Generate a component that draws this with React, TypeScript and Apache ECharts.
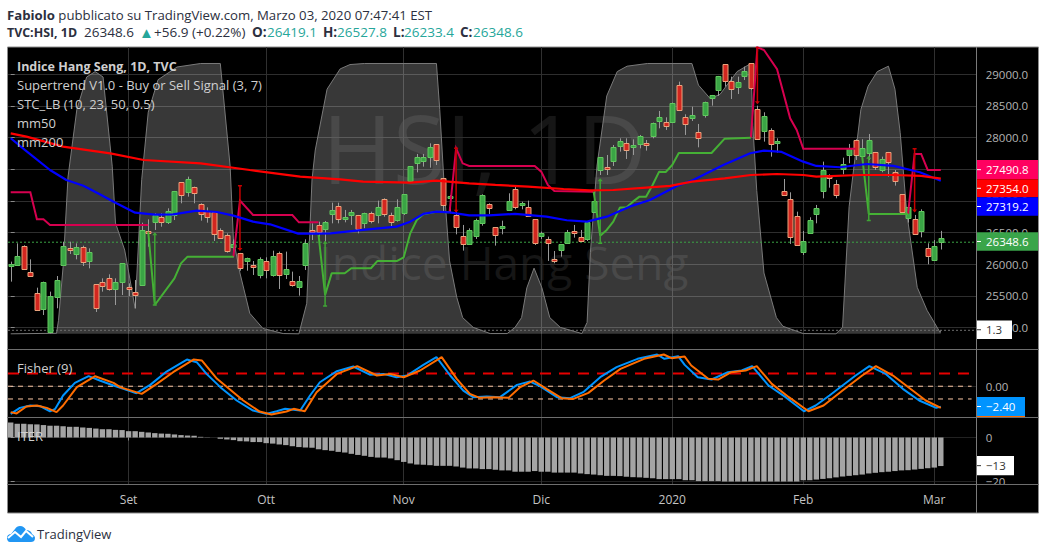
import React, { useEffect, useRef } from "react";
import * as echarts from "echarts";

const monthBars = [18, 39, 60, 81, 101, 121, 141];
const monthNames = ["Set", "Ott", "Nov", "Dic", "2020", "Feb", "Mar"];
const priceTicks = [25000, 25500, 26000, 26500, 27000, 27500, 28000, 28500, 29000];

const candleOpen = [25978,25989,26294,25878,25552,25294,24936,25489,25989,26263,
26163,26278,26052,25689,25726,25778,25610,25715,25647,25557,
25673,26520,26673,26742,26678,26778,27294,27147,27226,26952,
26842,26826,26542,26463,26278,26173,26042,25984,25831,26052,
25831,26173,25847,25742,25631,25989,26542,26620,26557,26794,
26921,26721,26779,26779,26647,26805,26768,27031,26773,26700,
26805,27305,27589,27631,27684,27894,27358,27058,26773,26447,
26321,26437,26658,26947,26584,26589,26863,27189,26947,26910,
26710,26437,26395,26089,26216,26337,26521,26426,26400,26831,
27489,27531,27631,27868,27910,27842,27910,27910,28026,28252,
28242,28253,28831,28321,28316,28084,28347,28632,28753,29158,
28895,28805,28979,29174,28447,28110,28121,27926,27158,27037,
26763,26184,26489,26784,27163,27410,27263,27510,27716,27963,
27700,27763,27774,27479,27774,27453,27105,26721,26710,26532,
26258,26079,26419.1];
const candleHigh = [26042,26331,26300,26078,25631,25726,25568,25815,26357,26357,
26331,26294,26252,25689,25778,25842,25778,26015,25699,25752,
26657,26710,26805,26805,26884,27158,27294,27384,27226,26963,
26899,26826,26568,26489,26394,26180,26105,26052,26110,26110,
26215,26200,26200,25884,25815,26394,26647,26673,26684,26973,
26973,26858,26858,26779,26815,26831,27005,27042,26815,27026,
27105,27547,27742,27742,27910,27894,27358,27094,26858,26621,
26568,26721,27105,26963,26584,26689,27121,27242,26989,27005,
26710,26516,26437,26210,26316,26542,26621,26542,26673,27147,
27689,27726,27884,27989,27989,27973,28042,27963,28237,28421,
28321,28553,28884,28368,28489,28216,28568,28674,28974,29158,
28963,28963,29121,29174,28505,28400,28147,27989,27347,27137,
26831,26526,26742,26937,27621,27421,27332,27684,27900,27974,
27974,28058,27774,27700,27774,27489,27105,26937,26779,26868,
26332,26384,26527.8];
const candleLow = [25726,25989,25930,25805,25268,25199,24910,25305,25989,26163,
26078,25973,25936,25247,25568,25584,25357,25515,25499,25305,
25657,26278,26542,26594,26636,26699,26963,27068,26963,26689,
26657,26368,26410,26184,26110,25899,25899,25831,25778,25778,
25805,25610,25768,25647,25505,25910,26384,26436,26357,26647,
26647,26663,26621,26489,26568,26647,26647,26752,26595,26673,
26779,27305,27452,27542,27526,27568,26815,26805,26473,26216,
26316,26400,26610,26795,26295,26473,26858,26868,26868,26752,
26305,26400,26053,26016,26121,26331,26421,26358,26368,26831,
27410,27410,27552,27779,27663,27726,27831,27795,27989,28147,
28121,28237,28421,28042,28263,27847,28316,28505,28658,28805,
28610,28689,28910,28753,27963,27937,27700,27763,27095,26321,
26289,26147,26489,26647,27042,27210,27042,27421,27595,27647,
27553,27647,27489,27453,27384,27242,26805,26658,26474,26426,
26000,26079,26233.4];
const candleClose = [26005,26126,25936,25815,25278,25726,25499,25752,26294,26236,
26278,26042,26189,25315,25657,25610,25726,26015,25636,25515,
26536,26499,26778,26663,26847,27158,27094,27347,27136,26789,
26752,26478,26420,26215,26320,25936,26094,25963,26089,25910,
26126,25820,25921,25678,25731,26331,26526,26505,26673,26858,
26710,26742,26826,26558,26805,26684,26900,26789,26663,26900,
27105,27547,27689,27689,27847,27647,26926,27079,26579,26321,
26537,26695,27094,26889,26453,26605,27000,26905,26963,26768,
26337,26489,26326,26058,26316,26510,26500,26368,26663,27000,
27689,27505,27847,27947,27805,27879,28031,27873,28226,28321,
28184,28553,28437,28216,28363,27989,28558,28674,28974,28884,
28763,28879,29053,28779,27974,28347,27905,27953,27095,26437,
26305,26363,26700,26884,27489,27358,27095,27589,27832,27726,
27832,27963,27532,27658,27621,27305,26821,26900,26479,26847,
26132,26295,26348.6];
const greenDespiteOpen = [142];

const mm50 = [[0,27990],[2.2,27804],[6,27489],[8.5,27331],[11.1,27241],[13.6,27105],[15.7,26989],[19,26815],[22,26784],[24.8,26789],[28.4,26847],[31.5,26826],[34,26768],[37,26673],[39.6,26631],[43.9,26484],[46.7,26484],[48.8,26489],[53.8,26542],[58.9,26595],[61,26673],[63,26795],[65,26831],[67,26821],[70,26773],[73,26773],[77,26795],[81.8,26752],[84.9,26695],[88,26673],[91,26752],[94.5,26910],[97.6,27015],[101.7,27237],[104.2,27331],[108.8,27568],[112.9,27753],[115,27795],[117.7,27774],[121,27621],[123,27553],[126.6,27532],[130.7,27584],[134.8,27553],[138.8,27453],[142,27319.2]];
const mm200 = [[0,28068],[2.4,28015],[8,27857],[15.2,27752],[20.3,27647],[29,27594],[36.5,27489],[44.2,27384],[50.3,27342],[53.8,27305],[61,27289],[65,27321],[70,27279],[74,27253],[79,27226],[84.4,27189],[88.4,27168],[92,27173],[97,27210],[100.7,27237],[104,27305],[109,27358],[113,27410],[117,27426],[121,27410],[123,27384],[129.6,27410],[134.7,27410],[139,27395],[142,27354]];

const superRed = [
  [[0,27136],[3,27136],[4,26710],[5,26710],[6,26620],[21,26620]],
  [[34,26121],[35,27005],[37,26778],[43,26778],[44,26663],[47,26663]],
  [[67,26821],[68,27831],[69,27594],[70,27552],[80,27552],[81,27463],[82,27252],[83,27158],[89,27147]],
  [[113,28000],[114,29426],[115,29384],[117,29079],[119,28305],[120,28121],[121,27826],[129,27826]],
  [[137,26795],[138,27742],[139,27742],[140,27490.8],[142,27490.8]],
];
const superGreen = [
  [[21,26515],[22,25357],[25,25778],[26,26015],[27,26121],[34,26121]],
  [[47,26463],[48,25515],[49,25857],[51,25858],[52,25937],[55,25937],[56,26053],[59,26053],[60,26110],[61,26489],[62,26700],[63,26789],[65,26831],[67,26821]],
  [[89,27147],[90,26452],[91,26542],[92,26673],[93,26895],[94,26895],[95,26989],[96,27068],[97,27068],[98,27252],[99,27463],[100,27458],[101,27568],[102,27758],[107,27758],[109,27984],[113,28000]],
  [[130,27700],[131,26795],[137,26795]],
];
const sellSignals = [[35,27241,26226],[68,27831,26831],[114,29426,28544],[138,27826,26832]];
const buySignals = [[22,26489,25357],[48,26357,25342],[90,27342,26331],[131,27700,26690]];

const stcArea = [[0,0],[7,0.2],[7.3,5],[8,24.8],[8.75,58],[10.1,83],[11.6,95],[12.9,97],[14.1,95],[15.5,62],[16,41],[17.4,31],[19,9.4],[20,57],[21,82],[22.5,94],[25.4,98.7],[29,100],[32,100],[33.5,62],[34,35],[35,22.5],[36.5,7.6],[38.5,2],[41.6,0.1],[44,0],[45.2,11.3],[46,57],[46.5,68],[48.3,90.5],[50.3,98],[51.8,99.6],[54,100],[65,100],[65.5,83],[66.3,50],[67,27],[68.1,13.5],[69,6],[70.6,2.4],[73.2,0.1],[75.8,0.1],[77,2.4],[78,6],[78.8,17],[79.9,24.3],[81.1,17],[82.3,6],[83.9,2.4],[87.2,0.1],[88,4.2],[88.5,30],[89.5,62],[91,88],[92.6,97],[94.1,99],[97.2,100],[104,100],[105,92],[106.8,87],[108.3,88.6],[110.9,97],[113,100],[113.3,77],[113.9,53],[115,22.5],[116.9,6],[117.9,2.8],[121,0.1],[126,0],[127,2.4],[128,47],[129.8,83],[130.9,91.6],[132.3,97],[134,99],[135,90.5],[135.8,74.4],[136.8,44.8],[138.4,17.2],[139.9,8.7],[141.9,0.5],[142,1.3]];

const fisherBlue = [[0,-3.25],[1.4,-2.55],[3,-2.27],[4.5,-2.35],[6,-2.97],[6.8,-2.66],[8,-1.09],[9.8,0.4],[11.9,1.18],[13.6,0.67],[15.7,0.08],[17.2,-0.31],[19.2,-0.82],[21.3,0.16],[23.8,1.73],[26.9,3.14],[28.4,2.83],[29.9,1.45],[32,-0.11],[34.5,-1.68],[37,-2.86],[39,-3.25],[40.6,-2.94],[41.9,-2.66],[44.2,-2.86],[45.7,-1.09],[47.2,0.47],[49.8,1.77],[52.3,2.32],[54.9,1.34],[56.9,1.45],[58.9,1.06],[60.5,1.26],[63,2.51],[65,3.42],[67.1,1.26],[69.1,-0.51],[70.6,-1.29],[72.7,-1.21],[74.7,-1.29],[77.3,0.16],[79.3,0.55],[80.8,0],[83.4,-1.29],[85.4,-1.41],[87.4,-0.7],[90,1.06],[92.5,2.24],[95.7,3.22],[98.7,3.73],[99.8,3.22],[101.9,3.53],[102.9,2.51],[104.9,1.06],[107,0.79],[109.5,1.65],[111.6,1.85],[113.2,2.36],[115.7,0.08],[118.3,-1.29],[121.1,-2.95],[122.9,-2.27],[125,-1.09],[129,1.26],[131.1,2.36],[133.6,1.45],[136.2,-0.31],[138.7,-1.68],[141.3,-2.55],[142,-2.4]];
const fisherOrange = [[0,-3.05],[0.9,-3.2],[2.4,-2.39],[4,-2.27],[5.5,-2.55],[7,-3.05],[8,-2.27],[10.1,-0.11],[12.9,1.18],[15.7,0.4],[16.7,-0.11],[20,-0.9],[22.3,0.28],[24.8,1.65],[27.9,3.14],[29.2,3.02],[31.5,0.87],[35.5,-1.68],[38,-2.98],[39.8,-3.33],[42.1,-2.98],[43.2,-2.66],[44.9,-2.94],[46.7,-0.7],[49.8,1.45],[52.9,2.36],[55.9,1.26],[57.9,1.45],[60,1.06],[62.5,1.85],[65.8,3.42],[68.1,0.87],[70.1,-0.9],[71.6,-1.37],[73.7,-1.29],[76,-1.37],[77.8,-0.1],[79.8,0.67],[81.8,-0.31],[84.1,-1.41],[85.9,-1.49],[88.2,-0.78],[90.6,0.67],[93.1,2.04],[96.7,3.22],[99.7,3.73],[100.9,3.3],[102.9,3.49],[103.9,2.44],[106.5,0.87],[108,0.79],[110,1.65],[112.2,1.85],[113.9,2.36],[116.2,0.28],[118.8,-1.29],[121.8,-2.94],[124.1,-2.27],[127,-0.51],[130,1.26],[132.1,2.36],[134.7,1.26],[137.7,-0.51],[139.7,-1.68],[142,-2.55]];
const fisherLevelsRed = [1.5];
const fisherLevelsOrange = [0, -1.5];

const iterValues = [6.9,6.3,6.3,6.1,6,5.7,5.4,5.4,5.2,4.9,4.9,4.6,4.4,4.1,3.8,3.8,3.5,3.4,2.9,2.9,2.6,2.3,2,1.8,1.7,1.4,1.1,0.9,0.8,0.3,0.1,0,
-0.6,-0.9,-1.2,-1.7,-1.8,-2.1,-2.1,-2.6,-2.8,-3.2,-3.5,-4,-4.4,-4.6,-4.7,-5.4,-5.8,-6.1,-6.6,-6.9,-7.5,-8,-8.4,-8.9,-9.2,-9.2,-9.6,-10.4,-11.2,-11.9,-12.4,-12.5,-12.7,-13,-13,-13,-13.3,-13.8,-14.2,-14.2,-14.5,-14.5,-14.8,-15.1,-15.1,-15.7,
-15.7,-15.7,-15.4,-15.7,-15.7,-16.1,-16.1,-16.1,-16.1,-16.5,-16.8,-17,-17.3,-17.6,-17.6,-17.7,-18,-18.2,-18.3,-18.5,-18.7,-19.1,-19.1,-19.1,-19.1,-19.6,-19.6,-20,-20,-20,-20,-20.2,-20.2,-20.2,-20.2,-20.2,-20.2,-20.2,-20.2,-20.2,-20.2,-20.2,-20.2,
-19.6,-19.6,-19.3,-19,-18.7,-18.3,-17.9,-17.6,-17.3,-17,-16.5,-16.2,-15.9,-15.7,-15.4,-15.1,-15,-14.7,-14.4,-14.1,-13.8,-13.1];

const lastPrice = 26348.6;
const stcLast = 1.3;

const FONT = "'Open Sans', 'Noto Sans', sans-serif";
const X_MIN = -0.412;
const X_MAX = 147.48;
const GRID_LEFT = 8;
const GRID_RIGHT = 1046 - 976.7;

function candleItem(_p: any, api: any) {
  const i = api.value(0);
  const open = api.value(1);
  const high = api.value(2);
  const low = api.value(3);
  const close = api.value(4);
  const up = close >= open || greenDespiteOpen.includes(i);
  const top = api.coord([i, Math.max(open, close)]);
  const bot = api.coord([i, Math.min(open, close)]);
  const hi = api.coord([i, high]);
  const lo = api.coord([i, low]);
  const cx = Math.round(top[0]) + 0.5;
  const y0 = Math.round(top[1]) + 0.5;
  const h = Math.max(2, Math.round(bot[1] - top[1]));
  return {
    type: "group",
    children: [
      { type: "line", shape: { x1: cx, y1: hi[1], x2: cx, y2: lo[1] }, style: { stroke: "#9a9a9a", lineWidth: 1 } },
      {
        type: "rect",
        shape: { x: cx - 2.5, y: y0, width: 5, height: h },
        style: { fill: up ? "#3aa545" : "#d2261f", stroke: up ? "#62c75f" : "#eba27c", lineWidth: 1 },
      },
    ],
  };
}

function signalItem(color: string, headAtTop: boolean) {
  return (_p: any, api: any) => {
    const i = api.value(0);
    const a = api.coord([i, api.value(1)]);
    const b = api.coord([i, api.value(2)]);
    const head = headAtTop ? a : b;
    const tail = headAtTop ? b : a;
    const dir = headAtTop ? -1 : 1;
    return {
      type: "group",
      children: [
        { type: "line", shape: { x1: a[0], y1: a[1], x2: b[0], y2: b[1] }, style: { stroke: color, lineWidth: 1.5 } },
        { type: "line", shape: { x1: tail[0] - 2, y1: tail[1], x2: tail[0] + 2, y2: tail[1] }, style: { stroke: color, lineWidth: 1.5 } },
        {
          type: "polygon",
          shape: { points: [[head[0] - 2.5, head[1] - dir * 2], [head[0] + 2.5, head[1] - dir * 2], [head[0], head[1] + dir]] },
          style: { fill: color },
        },
      ],
    };
  };
}

function xAxis(gridIndex: number, labels: boolean) {
  return {
    type: "value",
    gridIndex,
    min: X_MIN,
    max: X_MAX,
    axisLine: { show: false },
    axisTick: { show: labels, customValues: monthBars, length: 3, lineStyle: { color: "#8a8a8a" } },
    axisLabel: {
      show: labels,
      customValues: monthBars,
      margin: 9,
      color: "#c4c4c4",
      fontFamily: FONT,
      fontSize: 12,
      formatter: (v: number) => monthNames[monthBars.indexOf(v)] ?? "",
    },
    splitLine: { show: true, lineStyle: { color: "#303030", width: 1 } },
  };
}

function yLabelAxis(gridIndex: number, min: number, max: number, values: number[], fmt: (v: number) => string, grid = "#2c2c2c") {
  return {
    type: "value",
    gridIndex,
    position: "right",
    min,
    max,
    axisLine: { show: false },
    axisTick: { show: true, customValues: values, length: 4, lineStyle: { color: "#8a8a8a" } },
    axisLabel: { customValues: values, margin: 9, color: "#b4b4b4", fontFamily: FONT, fontSize: 11.5, formatter: fmt },
    splitLine: { show: true, lineStyle: { color: grid, width: 1 } },
  };
}

function label(text: string, y0: number, y1: number, right: number, bg: string, fg: string) {
  const mid = (y0 + y1) / 2;
  return [
    { type: "rect", z: 60, shape: { x: 977, y: y0, width: right - 977, height: y1 - y0 }, style: { fill: bg } },
    { type: "rect", z: 61, shape: { x: 977, y: mid - 0.5, width: 4, height: 1 }, style: { fill: fg } },
    { type: "text", z: 61, style: { text, x: 986, y: mid, fill: fg, font: `11.5px ${FONT}`, verticalAlign: "middle" } },
  ];
}

function txt(text: string, x: number, y: number, fill: string, font: string, z = 40) {
  return { type: "text", z, silent: true, style: { text, x, y, fill, font, verticalAlign: "middle" } };
}

export default function App() {
  const ref = useRef<HTMLDivElement>(null);
  useEffect(() => {
    echarts.graphic.registerShape(
      "tvCloud",
      echarts.graphic.extendPath(
        "M3 16C1 16 0 14 0 12C0 9 2 8 4 8L8 3C9 1 11 0 13 0C16 0 18 2 19 4C22 4 24 5 25 8C27 9 28 11 28 12C28 15 26 16 24 16Z",
        {}
      )
    );
    const chart = echarts.init(ref.current!, undefined, { renderer: "svg" });
    const lineBase = { type: "line", showSymbol: false, symbol: "none", silent: true, animation: false };
    const mainAxes = { xAxisIndex: 0, yAxisIndex: 0 };
    const series: any[] = [
      {
        ...lineBase,
        name: "STC_LB",
        xAxisIndex: 0,
        yAxisIndex: 1,
        z: 1,
        data: stcArea,
        lineStyle: { color: "#7a7a7a", width: 1 },
        areaStyle: { color: "rgba(255,255,255,0.22)", origin: 0, opacity: 1 },
      },
      {
        ...lineBase,
        name: "stcLevel",
        xAxisIndex: 0,
        yAxisIndex: 1,
        z: 1,
        data: [[X_MIN, stcLast], [X_MAX, stcLast]],
        lineStyle: { color: "#6e6e6e", width: 1, type: [2, 2] },
      },
      {
        ...lineBase,
        ...mainAxes,
        name: "lastPrice",
        z: 3,
        data: [[X_MIN, lastPrice], [X_MAX, lastPrice]],
        lineStyle: { color: "#3aa545", width: 1, type: [2, 2] },
      },
      {
        type: "custom",
        name: "Indice Hang Seng",
        ...mainAxes,
        z: 4,
        silent: true,
        clip: true,
        encode: { x: 0, y: [1, 2, 3, 4] },
        data: candleOpen.map((o, i) => [i, o, candleHigh[i], candleLow[i], candleClose[i]]),
        renderItem: candleItem,
      },
      ...superRed.map((d, k) => ({ ...lineBase, ...mainAxes, name: `superRed${k}`, z: 5, data: d, lineStyle: { color: "#d6004f", width: 2, join: "miter" } })),
      ...superGreen.map((d, k) => ({ ...lineBase, ...mainAxes, name: `superGreen${k}`, z: 5, data: d, lineStyle: { color: "#45b035", width: 2 } })),
      { type: "custom", name: "sell", ...mainAxes, z: 6, silent: true, clip: true, encode: { x: 0, y: [1, 2] }, data: sellSignals, renderItem: signalItem("#c80000", false) },
      { type: "custom", name: "buy", ...mainAxes, z: 6, silent: true, clip: true, encode: { x: 0, y: [1, 2] }, data: buySignals, renderItem: signalItem("#3fa535", true) },
      { ...lineBase, ...mainAxes, name: "mm50", z: 7, data: mm50, lineStyle: { color: "#0000ff", width: 2.2 } },
      { ...lineBase, ...mainAxes, name: "mm200", z: 7, data: mm200, lineStyle: { color: "#ff0000", width: 2.2 } },
      ...fisherLevelsRed.map((v) => ({
        ...lineBase, xAxisIndex: 1, yAxisIndex: 2, name: "fisherRed", z: 3,
        data: [[X_MIN, v], [146.7, v]],
        lineStyle: { color: "#e60000", width: 2, type: [11, 8] },
      })),
      ...fisherLevelsOrange.map((v) => ({
        ...lineBase, xAxisIndex: 1, yAxisIndex: 2, name: `fisherOrange${v}`, z: 3,
        data: [[X_MIN, v], [146.7, v]],
        lineStyle: { color: "#ffc9a6", width: 1, type: [5, 5] },
      })),
      { ...lineBase, xAxisIndex: 1, yAxisIndex: 2, name: "Fisher", z: 4, data: fisherBlue, lineStyle: { color: "#0094ff", width: 2 } },
      { ...lineBase, xAxisIndex: 1, yAxisIndex: 2, name: "Trigger", z: 5, data: fisherOrange, lineStyle: { color: "#ff6d00", width: 2 } },
      {
        type: "bar",
        name: "ITER",
        xAxisIndex: 2,
        yAxisIndex: 3,
        silent: true,
        barWidth: 5.4,
        z: 4,
        itemStyle: { color: "#a4a4a4" },
        data: iterValues.map((v, i) => [i, v]),
      },
    ];

    const legendColor = "#cfcfcf";
    const head = "#2c3040";
    const teal = "#26a69a";
    const row2 = `13.5px ${FONT}`;
    const row2b = `bold 13.5px ${FONT}`;
    const graphicElements: any[] = [
      { type: "rect", z: -20, silent: true, shape: { x: 7.5, y: 47, width: 1031, height: 466 }, style: { fill: "#000", stroke: "#8c8c8c", lineWidth: 1 } },
      txt("HSI, 1D", 322, 146, "#161616", `96px ${FONT}`, -10),
      txt("Indice Hang Seng", 319, 262, "#161616", `46px ${FONT}`, -10),
      { type: "rect", z: 35, silent: true, shape: { x: 978, y: 485, width: 60, height: 12 }, style: { fill: "#000" } },
      { type: "rect", z: 36, silent: true, shape: { x: 7, y: 349, width: 1032, height: 1 }, style: { fill: "#6e6e6e" } },
      { type: "rect", z: 36, silent: true, shape: { x: 7, y: 417, width: 1032, height: 1 }, style: { fill: "#6e6e6e" } },
      { type: "rect", z: 36, silent: true, shape: { x: 7, y: 484, width: 1032, height: 1 }, style: { fill: "#6e6e6e" } },
      { type: "rect", z: 36, silent: true, shape: { x: 976, y: 47, width: 1, height: 466 }, style: { fill: "#7a7a7a" } },
      txt("Indice Hang Seng, 1D, TVC", 17, 66, legendColor, `bold 12.5px ${FONT}`),
      txt("Supertrend V1.0 - Buy or Sell Signal (3, 7)", 17, 85, legendColor, `13px ${FONT}`),
      txt("STC_LB (10, 23, 50, 0.5)", 17, 104, legendColor, `13px ${FONT}`),
      txt("mm50", 17, 123, legendColor, `13px ${FONT}`),
      txt("mm200", 17, 142, legendColor, `13px ${FONT}`),
      txt("Fisher (9)", 17, 368, legendColor, `13px ${FONT}`),
      txt("ITER", 17, 436, legendColor, `13px ${FONT}`),
      {
        type: "text",
        z: 40,
        silent: true,
        style: {
          x: 7,
          y: 15,
          verticalAlign: "middle",
          text: "{b|Fabiolo} pubblicato su TradingView.com, Marzo 03, 2020 07:47:41 EST",
          font: `13.2px ${FONT}`,
          fill: head,
          rich: { b: { font: `bold 13.2px ${FONT}`, fill: head } },
        },
      },
      txt("TVC:HSI, 1D", 7, 32, head, `bold 12.4px ${FONT}`),
      txt("26348.6", 84, 32, head, row2),
      txt("▲", 139, 32, teal, `15px ${FONT}`),
      txt("+56.9 (+0.22%)", 154, 32, head, row2),
      txt("O:", 252, 32, head, row2b),
      txt("26419.1", 267, 32, teal, row2),
      txt("H:", 323, 32, head, row2b),
      txt("26527.8", 337, 32, teal, row2),
      txt("L:", 393, 32, head, row2b),
      txt("26233.4", 404, 32, teal, row2),
      txt("C:", 460, 32, head, row2b),
      txt("26348.6", 473, 32, teal, row2),
      ...label("27490.8", 160, 179.3, 1038, "#ff0060", "#fff"),
      ...label("27354.0", 179.3, 197.3, 1038, "#ff0000", "#fff"),
      ...label("27319.2", 197.3, 215.7, 1038, "#0000ff", "#fff"),
      ...label("26348.6", 232.3, 250.7, 1038, "#3aa54a", "#fff"),
      ...label("1.3", 320.5, 339, 1012, "#fff", "#333"),
      { type: "rect", z: 60, shape: { x: 977, y: 397, width: 48, height: 20 }, style: { fill: "#ff6d00" } },
      ...label("−2.40", 397, 416, 1025, "#0094ff", "#fff"),
      ...label("−13", 456, 475.3, 1014, "#fff", "#333"),
      { type: "tvCloud", z: 40, x: 7, y: 526, scaleX: 1, scaleY: 1, silent: true, style: { fill: "#2196f3" } },
      { type: "polyline", z: 41, silent: true, shape: { points: [[8, 538], [15, 532], [21, 537], [26, 531], [33, 537]] }, style: { stroke: "#fff", lineWidth: 2, fill: "none" } },
      txt("TradingView", 37, 534, head, `13px ${FONT}`),
    ];

    chart.setOption({
      animation: false,
      backgroundColor: "#ffffff",
      tooltip: { show: false },
      grid: [
        { left: GRID_LEFT, right: GRID_RIGHT, top: 47, height: 302.5 },
        { left: GRID_LEFT, right: GRID_RIGHT, top: 349.5, height: 68 },
        { left: GRID_LEFT, right: GRID_RIGHT, top: 417.5, height: 67 },
      ],
      xAxis: [xAxis(0, false), xAxis(1, false), xAxis(2, true)],
      yAxis: [
        yLabelAxis(0, 24654.6, 29431, priceTicks, (v) => v.toFixed(1), "#2e2e2e"),
        { type: "value", gridIndex: 0, min: -5.8, max: 106.1, show: false, splitLine: { show: false } },
        yLabelAxis(1, -3.68, 4.32, [0], () => "0.00", "#222"),
        yLabelAxis(2, -21.56, 9.17, [0, -20], (v) => (v === 0 ? "0" : "−20"), "#222"),
      ],
      series,
      graphic: { elements: graphicElements },
    });
    return () => chart.dispose();
  }, []);
  return <div ref={ref} style={{ position: "absolute", left: 0, top: 0, width: 1046, height: 554 }} />;
}
